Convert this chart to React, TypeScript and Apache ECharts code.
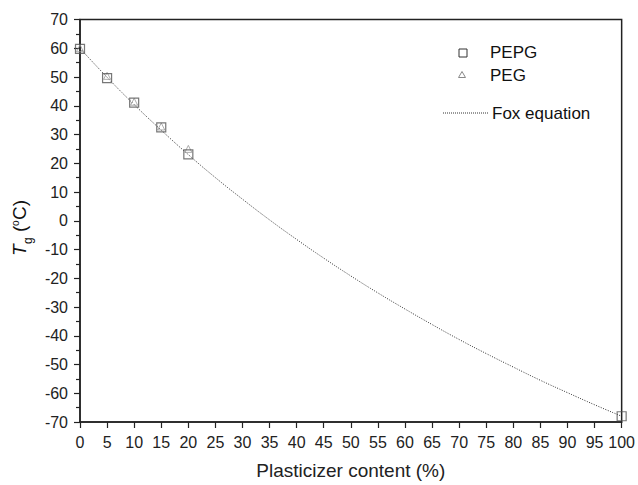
import React, { useEffect, useRef } from "react";
import * as echarts from "echarts";

const pepgX = [0, 5, 10, 15, 20, 100];
const pepgY = [59.8, 49.6, 41.1, 32.5, 23.1, -68.0];
const pegX = [0, 5, 10, 15, 20];
const pegY = [60.0, 50.4, 41.4, 32.8, 25.0];
const foxX = [0, 5, 10, 15, 20, 25, 30, 35, 40, 45, 50, 55, 60, 65, 70, 75, 80, 85, 90, 95, 100];
const foxY = [60.0, 49.9, 40.4, 31.5, 23.0, 15.0, 7.5, 0.3, -6.5, -13.0, -19.2, -25.1, -30.7, -36.1, -41.3, -46.2, -50.9, -55.5, -59.8, -64.0, -68.0];

const FONT = "Liberation Sans, Arial, sans-serif";

export default function App() {
  const ref = useRef<HTMLDivElement>(null);
  useEffect(() => {
    if (!ref.current) return;
    const chart = echarts.init(ref.current, null, { renderer: "svg" });
    const zip = (xs: number[], ys: number[]) => xs.map((x, i) => [x, ys[i]]);
    chart.setOption({
      animation: false,
      backgroundColor: "#fff",
      textStyle: { fontFamily: FONT },
      grid: {
        left: 80,
        right: 14,
        top: 19.5,
        bottom: 60,
        show: true,
        borderColor: "#222",
        borderWidth: 1.5,
        backgroundColor: "transparent",
      },
      xAxis: {
        type: "value",
        min: 0,
        max: 100,
        interval: 5,
        name: "Plasticizer content (%)",
        nameLocation: "middle",
        nameGap: 39,
        nameTextStyle: { fontSize: 19, color: "#222", fontFamily: FONT },
        axisLine: { onZero: false, lineStyle: { color: "#222", width: 1.5 } },
        axisTick: { length: 6, lineStyle: { color: "#222", width: 1.2 } },
        axisLabel: { fontSize: 16, color: "#222", margin: 12, fontFamily: FONT },
        splitLine: { show: false },
      },
      yAxis: {
        type: "value",
        min: -70,
        max: 70,
        interval: 10,
        axisLine: { onZero: false, lineStyle: { color: "#222", width: 1.5 } },
        axisTick: { length: 6, lineStyle: { color: "#222", width: 1.2 } },
        minorTick: { show: true, splitNumber: 2, length: 4, lineStyle: { color: "#222", width: 1.2 } },
        axisLabel: { fontSize: 16, color: "#222", margin: 12, fontFamily: FONT },
        splitLine: { show: false },
      },
      series: [
        {
          name: "Fox equation",
          type: "line",
          data: zip(foxX, foxY),
          smooth: true,
          showSymbol: false,
          lineStyle: { color: "#333", width: 1, type: [1, 1.5] },
          z: 1,
        },
        {
          name: "PEG",
          type: "scatter",
          data: zip(pegX, pegY),
          symbol: "triangle",
          symbolSize: 7,
          itemStyle: { color: "rgba(0,0,0,0)", borderColor: "#999", borderWidth: 1 },
          z: 2,
        },
        {
          name: "PEPG",
          type: "scatter",
          data: zip(pepgX, pepgY),
          symbol: "rect",
          symbolSize: 9,
          itemStyle: { color: "rgba(0,0,0,0)", borderColor: "#555", borderWidth: 1.2 },
          z: 3,
        },
      ],
      graphic: [
        { type: "rect", shape: { x: 459, y: 49, width: 8, height: 8 }, style: { fill: "none", stroke: "#333", lineWidth: 1 } },
        { type: "text", x: 490, y: 52, style: { text: "PEPG", fontSize: 17, fontFamily: FONT, fill: "#111", verticalAlign: "middle" } },
        { type: "polygon", shape: { points: [[462, 71.5], [465.5, 77.5], [458.5, 77.5]] }, style: { fill: "none", stroke: "#888", lineWidth: 1 } },
        { type: "text", x: 490, y: 75, style: { text: "PEG", fontSize: 17, fontFamily: FONT, fill: "#111", verticalAlign: "middle" } },
        { type: "line", shape: { x1: 443, y1: 113, x2: 488, y2: 113 }, style: { stroke: "#333", lineWidth: 1, lineDash: [1, 1] } },
        { type: "text", x: 492, y: 113, style: { text: "Fox equation", fontSize: 17, fontFamily: FONT, fill: "#111", verticalAlign: "middle" } },
        {
          type: "group",
          x: 29,
          y: 256,
          rotation: Math.PI / 2,
          children: [
            { type: "text", x: 0, y: 0, style: { text: "T", fontSize: 19, fontStyle: "italic", fontFamily: FONT, fill: "#111", verticalAlign: "bottom" } },
            { type: "text", x: 12, y: 5, style: { text: "g", fontSize: 12, fontFamily: FONT, fill: "#111", verticalAlign: "bottom" } },
            { type: "text", x: 24, y: 0, style: { text: "(", fontSize: 19, fontFamily: FONT, fill: "#111", verticalAlign: "bottom" } },
            { type: "text", x: 30, y: -9, style: { text: "o", fontSize: 10, fontFamily: FONT, fill: "#111", verticalAlign: "bottom" } },
            { type: "text", x: 36, y: 0, style: { text: "C)", fontSize: 19, fontFamily: FONT, fill: "#111", verticalAlign: "bottom" } },
          ],
        },
      ],
    });
    return () => chart.dispose();
  }, []);
  return <div ref={ref} style={{ width: 638, height: 485, position: "absolute", left: 0, top: 0 }} />;
}
